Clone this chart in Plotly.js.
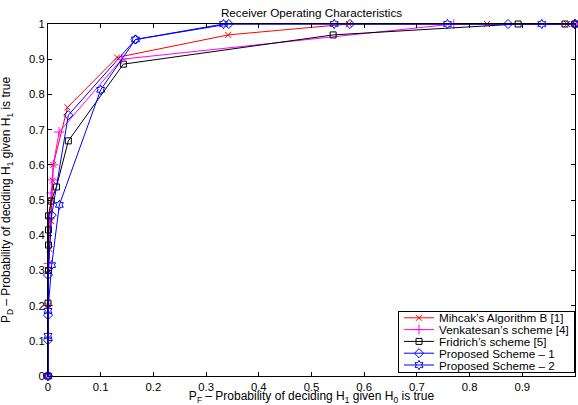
<!DOCTYPE html>
<html>
<head>
<meta charset="utf-8">
<script src="https://cdn.plot.ly/plotly-3.0.1.min.js"></script>
<style>html,body{margin:0;padding:0;background:#fff;}#chart{width:578px;height:405px;}</style>
</head>
<body>
<div id="chart"></div>
<script>
var mihcakX = [0, 0, 0.001, 0.003, 0.006, 0.007, 0.009, 0.01, 0.037, 0.131, 0.342, 0.571, 0.833, 0.985, 1];
var mihcakY = [0, 0.2, 0.3, 0.36, 0.44, 0.50, 0.555, 0.60, 0.763, 0.905, 0.969, 1.0, 1.0, 1.0, 1];

var venkX = [0, 0, 0.001, 0.003, 0.006, 0.008, 0.01, 0.021, 0.14, 0.77, 1];
var venkY = [0, 0.2, 0.32, 0.45, 0.52, 0.557, 0.60, 0.693, 0.90, 1.0, 1];

var fridX = [0, 0, 0.001, 0.001, 0.001, 0.001, 0.006, 0.016, 0.0386, 0.143, 0.541, 0.892, 0.981, 1];
var fridY = [0, 0.207, 0.30, 0.372, 0.415, 0.455, 0.497, 0.537, 0.668, 0.886, 0.969, 1, 1, 1];

var prop1X = [0, 0, 0, 0, 0.007, 0.0386, 0.166, 0.343, 0.573, 0.873, 1];
var prop1Y = [0, 0.102, 0.173, 0.287, 0.457, 0.741, 0.956, 1, 1, 1, 1];

var prop2X = [0, 0, 0, 0.007, 0.0215, 0.10, 0.166, 0.333, 0.543, 0.758, 0.937, 1];
var prop2Y = [0, 0.114, 0.185, 0.315, 0.486, 0.813, 0.956, 1, 1, 1, 1, 1];

var seriesNames = ["Mihcak\u2019s Algorithm B [1]", "Venkatesan\u2019s scheme [4]", "Fridrich\u2019s scheme [5]", "Proposed Scheme \u2013 1", "Proposed Scheme \u2013 2"];
var tickVals = [0, 0.1, 0.2, 0.3, 0.4, 0.5, 0.6, 0.7, 0.8, 0.9, 1];
var tickText = ["0", "0.1", "0.2", "0.3", "0.4", "0.5", "0.6", "0.7", "0.8", "0.9", "1"];

function tr(x, y, name, color, symbol, size) {
  return {x: x, y: y, name: name, type: 'scatter', mode: 'lines+markers',
    line: {color: color, width: 1},
    marker: {symbol: symbol, size: size, color: color, line: {color: color, width: 1}},
    cliponaxis: false};
}

var data = [
  tr(mihcakX, mihcakY, seriesNames[0], '#ff0000', 'x-thin-open', 6),
  tr(venkX, venkY, seriesNames[1], '#ff00ff', 'cross-thin-open', 7),
  tr(fridX, fridY, seriesNames[2], '#000000', 'square-open', 6),
  tr(prop1X, prop1Y, seriesNames[3], '#0000ff', 'diamond-open', 7),
  tr(prop2X, prop2Y, seriesNames[4], '#0000ff', 'hexagram-open', 7)
];

var FONT = 'Liberation Sans, Arial, sans-serif';
var axisCommon = {
  range: [0, 1], tickvals: tickVals, ticktext: tickText,
  ticks: 'inside', ticklen: 4, tickcolor: '#000', tickwidth: 1,
  showline: true, linecolor: '#000', linewidth: 1, mirror: 'ticks',
  showgrid: false, zeroline: false,
  tickfont: {family: FONT, size: 11.3, color: '#000'}
};

var layout = {
  width: 578, height: 405,
  margin: {l: 48, r: 3, t: 24, b: 29},
  paper_bgcolor: '#fff', plot_bgcolor: '#fff',
  font: {family: FONT, size: 11.7, color: '#000'},
  title: {text: 'Receiver Operating Characteristics', font: {size: 11.7, color: '#000'},
    x: 0.5, xref: 'paper', y: 1 - 13/405, yref: 'container', yanchor: 'middle'},
  xaxis: Object.assign({}, axisCommon, {
    title: {text: 'P<sub>F</sub> \u2013 Probability of deciding H<sub>1</sub> given H<sub>0</sub> is true',
      font: {size: 12, color: '#000'}}
  }),
  yaxis: Object.assign({}, axisCommon, {
    title: {text: 'P<sub>D</sub> \u2013 Probability of deciding H<sub>1</sub> given H<sub>1</sub> is true',
      font: {size: 12, color: '#000'}}
  }),
  showlegend: true,
  legend: {x: 0.996, y: 0.008, xanchor: 'right', yanchor: 'bottom',
    bgcolor: '#fff', bordercolor: '#000', borderwidth: 1,
    font: {size: 11.7, color: '#000'}, tracegroupgap: 0, itemwidth: 30}
};

Plotly.newPlot('chart', data, layout, {displayModeBar: false, staticPlot: true}).then(function (gd) {
  // compact the legend rows to the tight spacing of the reference
  var leg = gd.querySelector('g.legend');
  if (leg) {
    var bg = leg.querySelector('rect.bg');
    var traces = leg.querySelectorAll('g.traces');
    var step = 11.8, top = 7;
    traces.forEach(function (t, i) {
      var m = /translate\(\s*([-\d.e]+)[\s,]+([-\d.e]+)\s*\)/.exec(t.getAttribute('transform') || '');
      var tx = m ? m[1] : 1;
      t.setAttribute('transform', 'translate(' + tx + ',' + (top + i * step) + ')');
    });
    var H = top * 2 + (traces.length - 1) * step;
    bg.setAttribute('height', H);
    var W = parseFloat(bg.getAttribute('width'));
    leg.setAttribute('transform', 'translate(' + (574 - W) + ',' + (372 - H) + ')');
  }
  // nudge the y-axis title slightly left, keeping any existing transform
  var yt = gd.querySelector('g.g-ytitle');
  if (yt) yt.setAttribute('transform', 'translate(-4,0) ' + (yt.getAttribute('transform') || ''));
});
</script>
</body>
</html>
